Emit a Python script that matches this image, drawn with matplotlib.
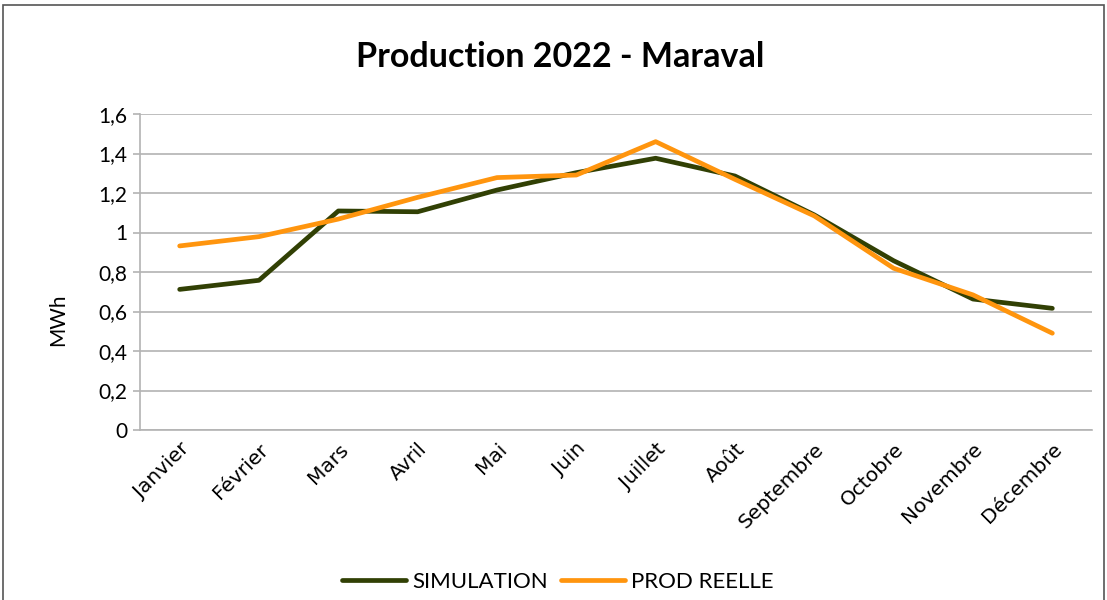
import matplotlib
matplotlib.use("Agg")
import matplotlib.pyplot as plt
from matplotlib.patches import Rectangle
from matplotlib.lines import Line2D

months = ["Janvier", "Février", "Mars", "Avril", "Mai", "Juin", "Juillet",
          "Août", "Septembre", "Octobre", "Novembre", "Décembre"]
simulation = [0.712, 0.758, 1.109, 1.105, 1.215, 1.303, 1.376, 1.286, 1.089, 0.857, 0.663, 0.616]
prod_reelle = [0.932, 0.979, 1.068, 1.178, 1.278, 1.291, 1.460, 1.269, 1.084, 0.819, 0.684, 0.490]
yticks = [0, 0.2, 0.4, 0.6, 0.8, 1.0, 1.2, 1.4, 1.6]
ytick_labels = ["0", "0,2", "0,4", "0,6", "0,8", "1", "1,2", "1,4", "1,6"]

W, H = 1107, 600
fig = plt.figure(figsize=(W / 100, H / 100), dpi=100)
fig.patch.set_facecolor("white")

# outer border
fig.add_artist(Rectangle((3 / W, -0.01), (W - 6) / W, 1 - 5 / H + 0.01,
                         transform=fig.transFigure, fill=False,
                         edgecolor="#555555", linewidth=1.2))

ax = fig.add_axes([140 / W, 1 - 430 / H, (1092 - 140) / W, (430 - 114) / H])
x = list(range(len(months)))
ax.plot(x, simulation, color="#314004", linewidth=3.4, solid_capstyle="round",
        solid_joinstyle="round", label="SIMULATION")
ax.plot(x, prod_reelle, color="#ff950e", linewidth=3.4, solid_capstyle="round",
        solid_joinstyle="round", label="PROD REELLE")

ax.set_xlim(-0.5, len(months) - 0.5)
ax.set_ylim(0, 1.6)
ax.set_yticks(yticks)
ax.set_yticklabels(ytick_labels, fontfamily="Lato", fontsize=15)
ax.set_xticks(x)
ax.set_xticklabels(months, rotation=45, ha="right", rotation_mode="anchor",
                   fontfamily="DejaVu Sans", fontsize=14.5)
ax.tick_params(axis="x", length=0, pad=7)
ax.tick_params(axis="y", length=5, color="#b3b3b3", width=1.2, pad=4)
ax.grid(axis="y", color="#b3b3b3", linewidth=1.2)
ax.set_axisbelow(True)
for s in ["top", "right"]:
    ax.spines[s].set_visible(False)
for s in ["left", "bottom"]:
    ax.spines[s].set_color("#b3b3b3")
    ax.spines[s].set_linewidth(1.2)

fig.text(58 / W, 1 - 320 / H, "MWh", rotation=90, ha="center", va="center",
         fontfamily="Lato", fontsize=15)
fig.text(560 / W, 1 - 57 / H, "Production 2022 - Maraval", ha="center", va="center",
         fontfamily="Lato", fontweight="bold", fontsize=24.5)

handles = [Line2D([0], [0], color="#314004", linewidth=3.4, solid_capstyle="round"),
           Line2D([0], [0], color="#ff950e", linewidth=3.4, solid_capstyle="round")]
fig.legend(handles, ["SIMULATION", "PROD REELLE"], loc="center",
           bbox_to_anchor=(558 / W, 1 - 582 / H), ncol=2, frameon=False,
           prop={"family": "Lato", "size": 16}, handlelength=2.85,
           handletextpad=0.3, columnspacing=0.6)

fig.savefig("out.png", dpi=100, facecolor="white")
